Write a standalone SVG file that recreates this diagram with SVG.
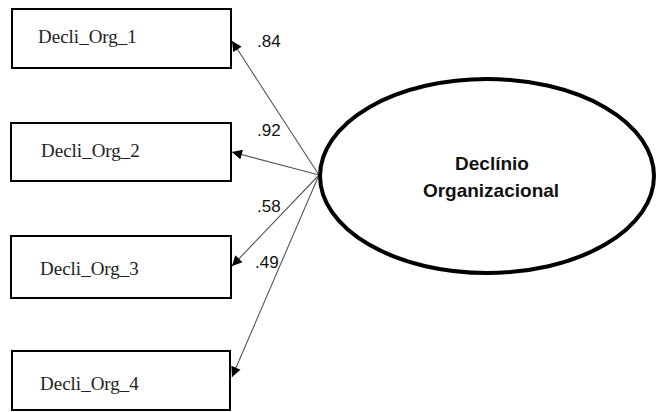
<svg xmlns="http://www.w3.org/2000/svg" width="657" height="412" viewBox="0 0 657 412">
  <style>
    .box { fill: #fff; stroke: #000; stroke-width: 2; }
    .obs { font-family: "Liberation Serif", "Times New Roman", serif; font-size: 19px; fill: #222; }
    .coef { font-family: "Liberation Sans", Arial, sans-serif; font-size: 17px; fill: #111; }
    .lat { font-family: "Liberation Sans", Arial, sans-serif; font-size: 19px; font-weight: bold; fill: #111; text-anchor: middle; }
    .path { stroke: #555; stroke-width: 1.1; fill: none; marker-end: url(#arrow); }
  </style>
  <defs>
    <marker id="arrow" viewBox="0 0 10 10" refX="10" refY="5" markerWidth="12" markerHeight="10" markerUnits="userSpaceOnUse" orient="auto">
      <path d="M0,0 L10,5 L0,10 z" fill="#000"/>
    </marker>
  </defs>
  <rect width="657" height="412" fill="#fff"/>

  <g id="connectors">
    <line class="path" x1="319" y1="175" x2="232" y2="41"/>
    <line class="path" x1="319" y1="175" x2="232" y2="152"/>
    <line class="path" x1="319" y1="175" x2="232" y2="266"/>
    <line class="path" x1="319" y1="175" x2="232" y2="377"/>
    <text class="coef" x="257" y="47">.84</text>
    <text class="coef" x="257" y="136">.92</text>
    <text class="coef" x="257" y="212">.58</text>
    <text class="coef" x="255" y="268">.49</text>
  </g>

  <g id="decli_org_1">
    <rect class="box" x="12" y="9" width="219" height="59"/>
    <text class="obs" x="38" y="43">Decli_Org_1</text>
  </g>
  <g id="decli_org_2">
    <rect class="box" x="11" y="123" width="220" height="58"/>
    <text class="obs" x="41" y="157">Decli_Org_2</text>
  </g>
  <g id="decli_org_3">
    <rect class="box" x="11" y="236" width="220" height="62"/>
    <text class="obs" x="40" y="275">Decli_Org_3</text>
  </g>
  <g id="decli_org_4">
    <rect class="box" x="12" y="351" width="218" height="59"/>
    <text class="obs" x="40" y="390">Decli_Org_4</text>
  </g>

  <g id="declinio_organizacional">
    <ellipse cx="487" cy="176" rx="167" ry="97" fill="#fff" stroke="#000" stroke-width="4"/>
    <text class="lat" x="492" y="170">Declínio</text>
    <text class="lat" x="491" y="197">Organizacional</text>
  </g>
</svg>
